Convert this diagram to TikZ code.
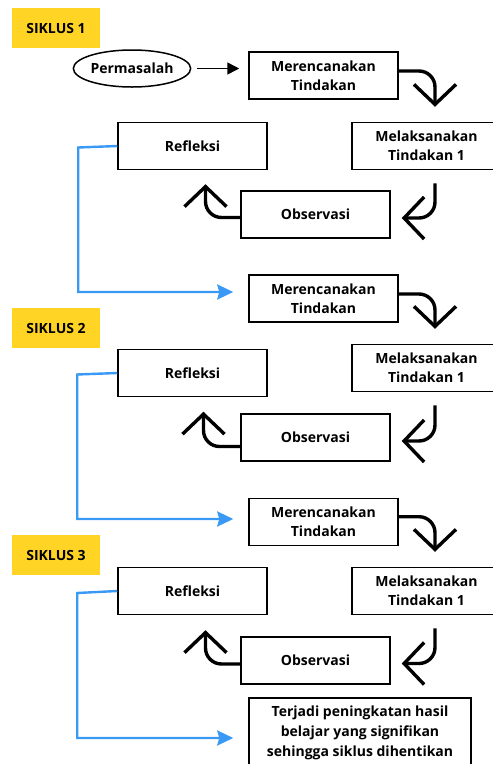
\documentclass[tikz,border=0pt]{standalone}
\usepackage{fontspec}
\setmainfont{Open Sans}
\usetikzlibrary{arrows.meta,calc,shapes.geometric}
\definecolor{siklusyellow}{RGB}{255,212,36}
\definecolor{linkblue}{RGB}{58,153,245}
\tikzset{
  every node/.style={font=\bfseries\fontsize{14}{19}\selectfont},
  box/.style={draw, line width=1.5pt, minimum width=149pt, minimum height=47pt, align=center, inner sep=0pt},
  sikluslabel/.style={fill=siklusyellow, minimum width=88pt, minimum height=40pt, inner sep=0pt},
  turn/.style={line width=3.4pt, rounded corners=16pt, -{Straight Barb[length=20pt,width=42pt]}},
  bluelink/.style={draw=linkblue, line width=2.4pt, -{Stealth[length=16pt,width=15pt,inset=2pt]}, shorten >=15pt},
  forward/.style={line width=1.5pt, -{Triangle[length=12pt,width=12pt]}, shorten <=6pt, shorten >=9pt},
}
\begin{document}
\begin{tikzpicture}[x=1pt,y=-1pt]
\useasboundingbox (0,0) rectangle (493,764);
\clip (0,0) rectangle (493,764);
% cycle 1
\node[sikluslabel] (s1) at (56,28) {SIKLUS 1};
\node[draw, ellipse, line width=1.5pt, minimum width=110pt, minimum height=37pt, inner sep=0pt] (perm) at (132,68.5) {Permasalah};
\node[box] (m1) at (323.5,75.5) {Merencanakan\\Tindakan};
\node[box] (l1) at (426.5,146) {Melaksanakan\\Tindakan 1};
\node[box] (r1) at (192.5,146) {Refleksi};
\node[box] (o1) at (315.5,214.5) {Observasi};
% cycle 2
\node[box] (m2) at (323.5,298.5) {Merencanakan\\Tindakan};
\node[sikluslabel] (s2) at (56,328) {SIKLUS 2};
\node[box] (r2) at (192.5,373) {Refleksi};
\node[box] (l2) at (426.5,368) {Melaksanakan\\Tindakan 1};
\node[box] (o2) at (315.5,437.5) {Observasi};
% cycle 3
\node[box] (m3) at (323.5,522) {Merencanakan\\Tindakan};
\node[sikluslabel] (s3) at (56,555) {SIKLUS 3};
\node[box] (r3) at (192.5,591) {Refleksi};
\node[box] (l3) at (426.5,591) {Melaksanakan\\Tindakan 1};
\node[box] (o3) at (315.5,660.5) {Observasi};
\node[box, minimum width=222pt, minimum height=70pt, font=\bfseries\fontsize{14}{20}\selectfont] (fin) at (360,733) {Terjadi peningkatan hasil\\belajar yang signifikan\\sehingga siklus dihentikan};
% connectors
\draw[forward] (perm.east) -- (perm.east -| m1.west);
\draw[turn] ([yshift=4.5pt]m1.east) -| ($(l1.north)+(8.5,-15)$);
\draw[turn] ($(l1.south)+(8.5,13)$) |- ($(o1.east)+(11,3.5)$);
\draw[turn] ($(o1.west)+(0,3)$) -| ($(r1.south)+(13,14)$);
\draw[bluelink] (r1.west) -- ++(-39,1.5) |- ($(m2.west)+(0,-6.5)$);
\draw[turn] ([yshift=4.5pt]m2.east) -| ($(l2.north)+(8.5,-15)$);
\draw[turn] ($(l2.south)+(8.5,13)$) |- ($(o2.east)+(11,3.5)$);
\draw[turn] ($(o2.west)+(0,9)$) -| ($(r2.south)+(11,14.5)$);
\draw[bluelink] (r2.west) -- ++(-40,1.5) |- ($(m3.west)+(0,-3)$);
\draw[turn] ([yshift=5.3pt]m3.east) -| ($(l3.north)+(8.5,-15)$);
\draw[turn] ($(l3.south)+(8.5,13)$) |- ($(o3.east)+(11,3)$);
\draw[turn] ($(o3.west)+(0,3.5)$) -| ($(r3.south)+(13,15)$);
\draw[bluelink] (r3.west) -- ++(-40,2) |- ($(fin.west)+(0,5)$);
\end{tikzpicture}
\end{document}
